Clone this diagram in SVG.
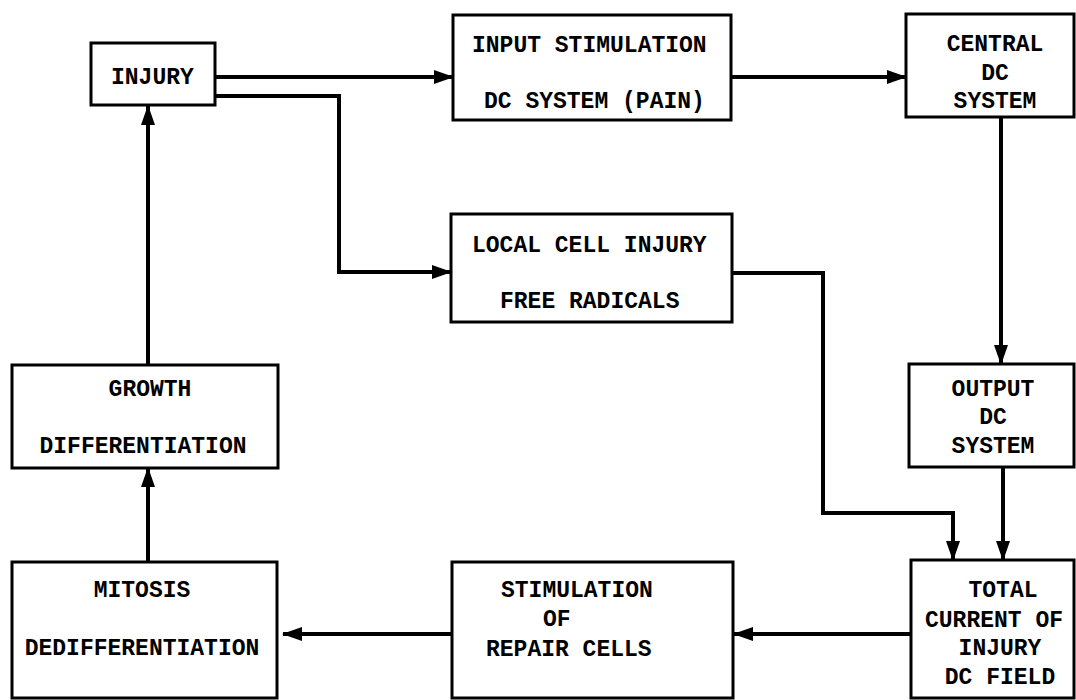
<svg xmlns="http://www.w3.org/2000/svg" width="1076" height="700" viewBox="0 0 1076 700">
<style>
.box{fill:#fff;stroke:#000;stroke-width:3}
.t{font-family:"Liberation Mono","Courier New",monospace;font-weight:bold;font-size:23px;fill:#000}
.c{fill:none;stroke:#000;stroke-width:4;marker-end:url(#ah)}
.cn{fill:none;stroke:#000;stroke-width:4}
</style>
<defs>
<marker id="ah" markerUnits="userSpaceOnUse" markerWidth="20" markerHeight="14" refX="19" refY="7" orient="auto">
<path d="M0,0 L20,7 L0,14 z" fill="#000"/>
</marker>
</defs>
<rect width="1076" height="700" fill="#fff"/>
<g id="connectors">
<path class="c" d="M215,77 H453"/>
<path class="c" d="M215,96 H339 V272 H451"/>
<path class="c" d="M731,77 H906"/>
<path class="c" d="M1001,117 V364"/>
<path class="c" d="M732,273 H823 V513 H953 V560"/>
<path class="c" d="M1003,467 V560"/>
<path class="c" d="M911,634 H734"/>
<path class="c" d="M452,634 H283"/>
<path class="c" d="M148,562 V468"/>
<path class="c" d="M148,365 V106"/>
</g>
<g id="injury">
<rect class="box" x="91" y="43" width="124" height="62"/>
<text class="t" x="111" y="84">INJURY</text>
</g>
<g id="input">
<rect class="box" x="453" y="15" width="278" height="105"/>
<text class="t" x="472" y="52">INPUT STIMULATION</text>
<text class="t" x="484" y="108">DC SYSTEM (PAIN)</text>
</g>
<g id="central">
<rect class="box" x="906" y="14" width="168" height="103"/>
<text class="t" x="995" y="51" text-anchor="middle">CENTRAL</text>
<text class="t" x="995" y="80" text-anchor="middle">DC</text>
<text class="t" x="995" y="108" text-anchor="middle">SYSTEM</text>
</g>
<g id="local">
<rect class="box" x="451" y="214" width="281" height="108"/>
<text class="t" x="472" y="252">LOCAL CELL INJURY</text>
<text class="t" x="500" y="308">FREE RADICALS</text>
</g>
<g id="output">
<rect class="box" x="909" y="364" width="165" height="103"/>
<text class="t" x="993" y="396" text-anchor="middle">OUTPUT</text>
<text class="t" x="993" y="424" text-anchor="middle">DC</text>
<text class="t" x="993" y="453" text-anchor="middle">SYSTEM</text>
</g>
<g id="total">
<rect class="box" x="911" y="560" width="163" height="138"/>
<text class="t" x="1003" y="597" text-anchor="middle">TOTAL</text>
<text class="t" x="994" y="627" text-anchor="middle">CURRENT OF</text>
<text class="t" x="1000" y="655" text-anchor="middle">INJURY</text>
<text class="t" x="1000" y="684" text-anchor="middle">DC FIELD</text>
</g>
<g id="stimulation">
<rect class="box" x="452" y="562" width="281" height="136"/>
<text class="t" x="501" y="597">STIMULATION</text>
<text class="t" x="543" y="626">OF</text>
<text class="t" x="486" y="656">REPAIR CELLS</text>
</g>
<g id="mitosis">
<rect class="box" x="12" y="562" width="265" height="136"/>
<text class="t" x="142" y="597" text-anchor="middle">MITOSIS</text>
<text class="t" x="142" y="655" text-anchor="middle">DEDIFFERENTIATION</text>
</g>
<g id="growth">
<rect class="box" x="12" y="365" width="266" height="103"/>
<text class="t" x="150" y="396" text-anchor="middle">GROWTH</text>
<text class="t" x="143" y="453" text-anchor="middle">DIFFERENTIATION</text>
</g>
</svg>
